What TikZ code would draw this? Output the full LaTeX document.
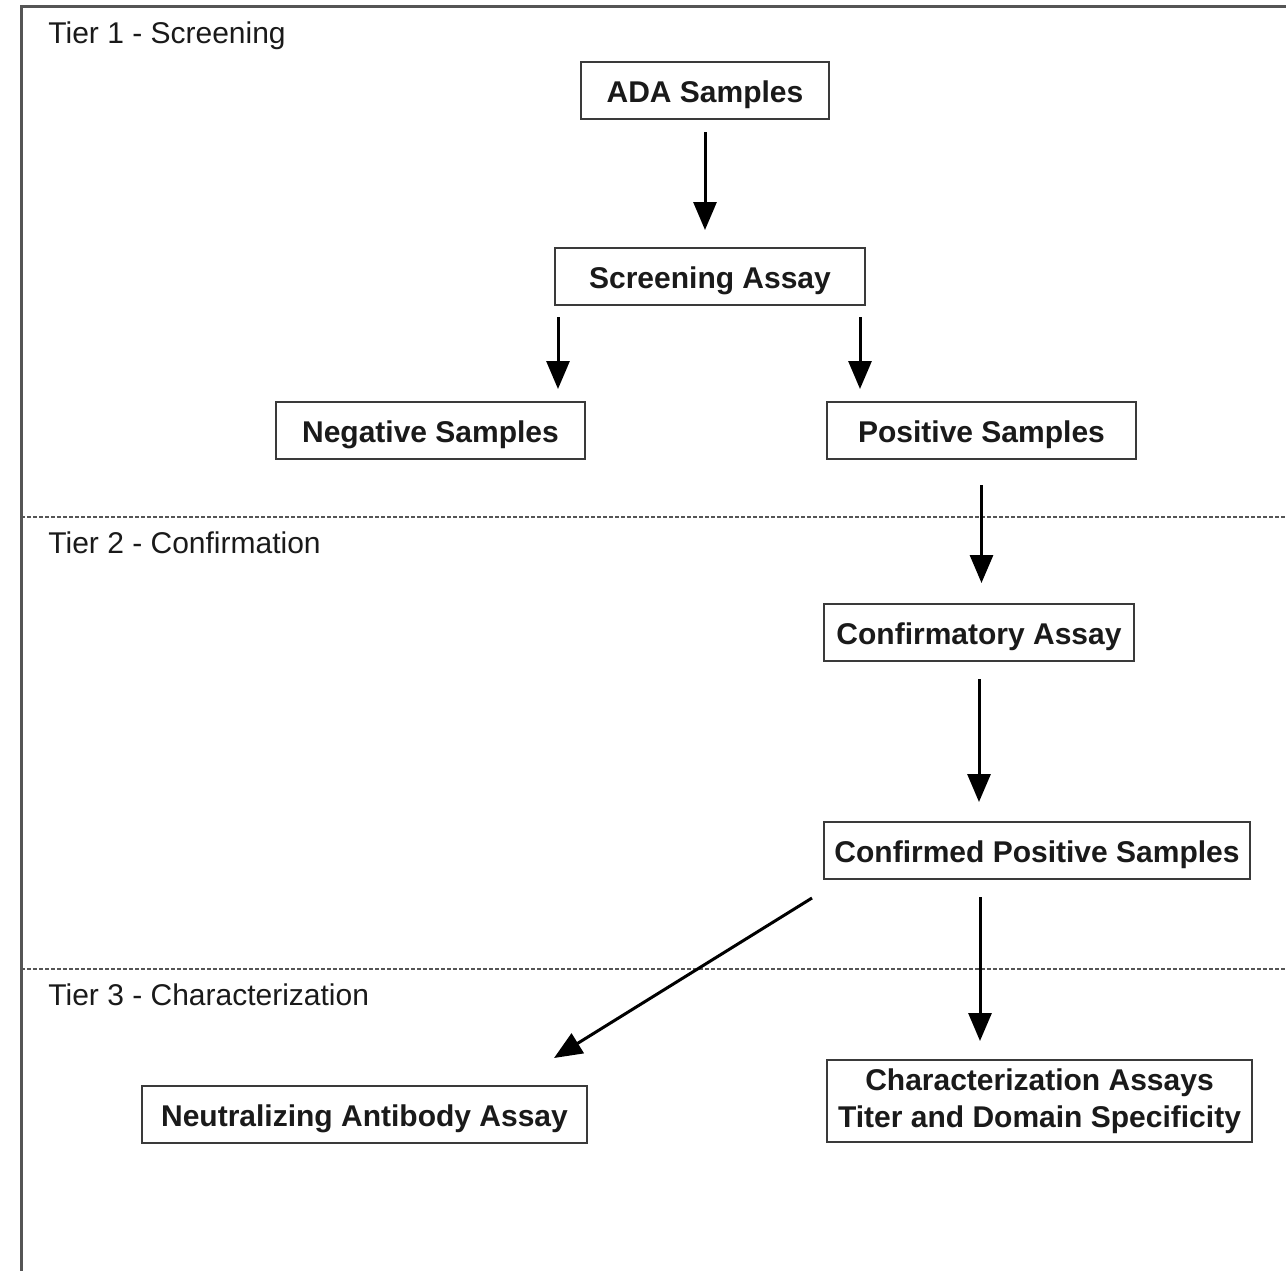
\documentclass[tikz,border=0pt]{standalone}
\usepackage{fontspec}
\setmainfont{Liberation Sans}
\usetikzlibrary{arrows.meta,calc}
\definecolor{framegray}{HTML}{555555}
\definecolor{boxgray}{HTML}{3A3A3A}
\definecolor{txt}{HTML}{1A1A1A}
\begin{document}
\begin{tikzpicture}[x=0.5pt,y=-0.5pt,
  box/.style={draw=boxgray, line width=1pt, inner sep=0pt, text=txt,
    font=\fontsize{15}{18.5}\selectfont\bfseries, align=center},
  onebox/.style={box, text height=12.2pt, text depth=0pt, minimum height=28.5pt},
  tier/.style={anchor=west, inner sep=0pt, text=txt, text height=10.7pt, text depth=0pt,
    font=\fontsize{15}{18}\selectfont},
  arr/.style={draw=black, line width=1.5pt, -{Triangle[length=14pt,width=11.5pt]}},
  sep/.style={draw=framegray, line width=0.6pt, dash pattern=on 2pt off 1pt},
  frame/.style={draw=framegray, line width=1.5pt}]
\useasboundingbox (0,0) rectangle (1286,1270);
\clip (0,0) rectangle (1286,1270);
\fill[white] (0,0) rectangle (1286,1270);
% frame
\draw[frame] (21,1300) -- (21,6) -- (1300,6);
% separators
\draw[sep] (21,517) -- (1300,517);
\draw[sep] (21,969) -- (1300,969);
% tier labels
\node[tier] (t1) at (48,33) {Tier 1 - Screening};
\node[tier] (t2) at (48,543) {Tier 2 - Confirmation};
\node[tier] (t3) at (48,995) {Tier 3 - Characterization};
% boxes
\node[onebox, minimum width=124pt] (ada) at (705,90.5) {ADA Samples};
\node[onebox, minimum width=155pt] (scr) at (710,276.5) {Screening Assay};
\node[onebox, minimum width=154.5pt] (neg) at (430.5,430.5) {Negative Samples};
\node[onebox, minimum width=154.5pt] (pos) at (981.5,430.5) {Positive Samples};
\node[onebox, minimum width=155pt] (cfa) at (979,632.5) {Confirmatory Assay};
\node[onebox, minimum width=213pt] (cps) at (1037,850.5) {Confirmed Positive Samples};
\node[onebox, minimum width=222.5pt] (naa) at (364.5,1114.5) {Neutralizing Antibody Assay};
\node[box, minimum width=212.5pt, minimum height=41pt] (chr) at (1039.5,1101) {Characterization Assays\\Titer and Domain Specificity};
% arrows
\draw[arr, shorten <=6pt, shorten >=8.5pt] (ada.south) -- (ada.south |- scr.north);
\draw[arr, shorten <=5.5pt, shorten >=6pt] ($(scr.south west)+(4,0)$) coordinate (s1) -- (s1 |- neg.north);
\draw[arr, shorten <=5.5pt, shorten >=6pt] ($(scr.south east)+(-6,0)$) coordinate (s2) -- (s2 |- pos.north);
\draw[arr, shorten <=12.5pt, shorten >=10pt] (pos.south) -- (pos.south |- cfa.north);
\draw[arr, shorten <=8.5pt, shorten >=9.5pt] (cfa.south) -- (cfa.south |- cps.north);
\draw[arr, shorten <=8.5pt, shorten >=9pt] ($(cps.south west)+(157,0)$) coordinate (s3) -- (s3 |- chr.north);
\draw[arr] ($(cps.south west)+(-11,18)$) -- ($(naa.north east)+(-34,-27)$);
\end{tikzpicture}
\end{document}
